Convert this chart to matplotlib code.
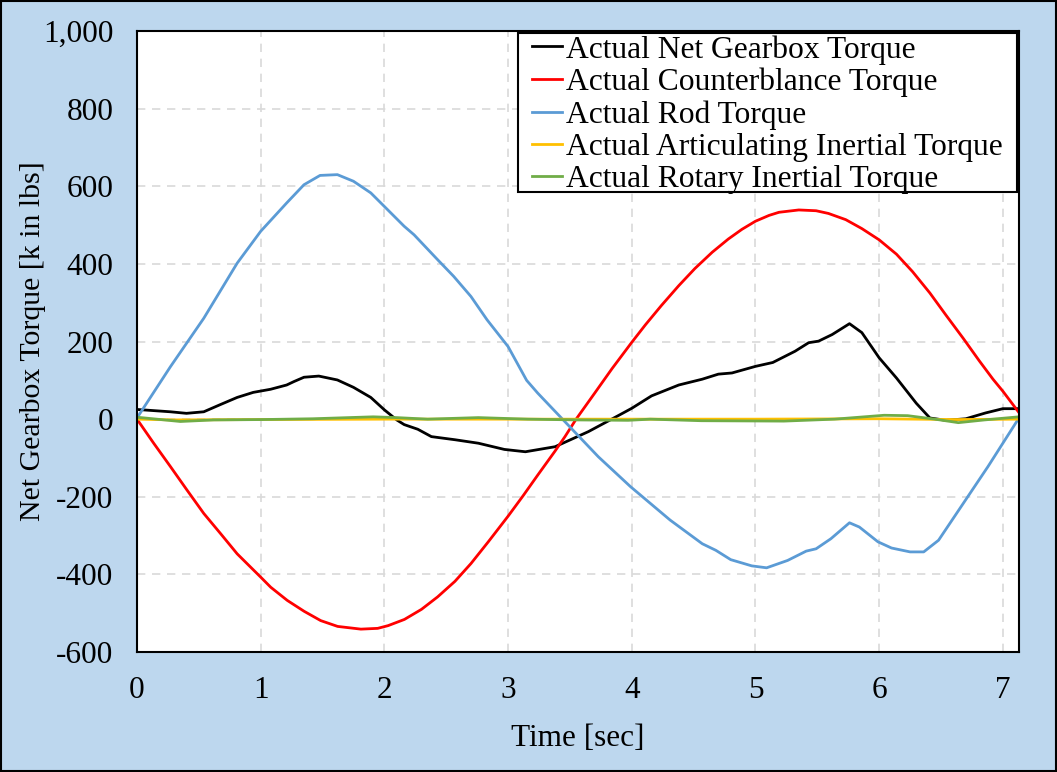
import matplotlib
matplotlib.use('Agg')
from matplotlib import pyplot as plt
from matplotlib.ticker import FuncFormatter, MultipleLocator

plt.rcParams['font.family'] = ['Liberation Serif', 'DejaVu Serif']
plt.rcParams['axes.unicode_minus'] = False

# values (time in sec, torque in k in lbs)
t_net = [0, 0.27, 0.40, 0.54, 0.67, 0.81, 0.94, 1.08, 1.21, 1.27, 1.35, 1.47, 1.62, 1.75, 1.89,
         2.0, 2.1, 2.16, 2.27, 2.38, 2.57, 2.76, 2.97, 3.14, 3.38, 3.65, 3.89, 4.0, 4.16, 4.38,
         4.57, 4.70, 4.81, 5.0, 5.14, 5.32, 5.43, 5.51, 5.62, 5.76, 5.86, 6.0, 6.14, 6.30,
         6.41, 6.54, 6.70, 6.86, 7.0, 7.13]
net = [25, 19, 15, 19, 37, 56, 69, 77, 88, 97, 108, 111, 101, 82, 56,
       24, -2, -14, -26, -45, -53, -62, -78, -84, -71, -32, 9, 28, 60, 88,
       103, 116, 119, 136, 146, 175, 197, 201, 218, 246, 223, 158, 106, 41,
       3, -3, 1, 16, 27, 27]

t_cb = [0, 0.135, 0.27, 0.405, 0.54, 0.676, 0.81, 1.0, 1.081, 1.215, 1.351, 1.485, 1.622, 1.81,
        1.946, 2.03, 2.162, 2.30, 2.43, 2.57, 2.70, 2.84, 3.0, 3.12, 3.24, 3.378, 3.46, 3.55,
        3.70, 3.84, 4.0, 4.11, 4.24, 4.38, 4.51, 4.65, 4.78, 4.89, 5.0, 5.11, 5.19, 5.35, 5.49,
        5.59, 5.73, 5.86, 6.0, 6.14, 6.27, 6.41, 6.54, 6.68, 6.81, 6.92, 7.0, 7.13]
counterbalance = [0, -62, -122, -183, -243, -295, -347, -407, -433, -467, -495, -519, -534, -541,
                  -539, -532, -516, -490, -458, -418, -372, -316, -250, -198, -144, -83, -45, 0,
                  67, 130, 198, 243, 293, 344, 388, 430, 464, 489, 510, 525, 533, 539, 537,
                  530, 514, 491, 462, 425, 380, 325, 268, 208, 150, 103, 72, 17]

t_rod = [0, 0.27, 0.54, 0.81, 1.0, 1.21, 1.35, 1.48, 1.62, 1.75, 1.89, 2.0, 2.16, 2.24, 2.43,
         2.56, 2.70, 2.83, 3.0, 3.15, 3.24, 3.44, 3.73, 3.99, 4.31, 4.57, 4.68, 4.80, 4.97,
         5.09, 5.26, 5.41, 5.49, 5.61, 5.76, 5.84, 5.99, 6.10, 6.25, 6.36, 6.48, 6.68, 6.88,
         7.13]
rod = [3, 135, 260, 402, 484, 557, 604, 628, 630, 613, 583, 548, 497, 475, 411,
       368, 316, 256, 187, 100, 67, 0, -97, -174, -260, -321, -338, -362, -378,
       -383, -364, -340, -334, -308, -267, -278, -316, -332, -342, -342, -312, -217, -122,
       3]

t_art = [0, 0.3, 1.0, 2.0, 3.0, 4.0, 5.0, 6.0, 6.6, 7.13]
articulating = [0, -2, -1, 0, 0, 0, 0, 1, -1, 0]

t_rot = [0, 0.35, 0.62, 1.02, 1.42, 1.91, 2.1, 2.35, 2.76, 3.16, 3.57, 3.97, 4.15, 4.56,
         5.23, 5.64, 6.04, 6.23, 6.45, 6.64, 6.85, 7.13]
rotary = [5, -6, -2, -1, 1, 6, 4, 0, 4, 0, -2, -3, 0, -4,
          -5, 0, 10, 9, 0, -9, -2, 6]

labels = ['Actual Net Gearbox Torque', 'Actual Counterblance Torque', 'Actual Rod Torque',
          'Actual Articulating Inertial Torque', 'Actual Rotary Inertial Torque']
colors = ['#000000', '#FF0000', '#5B9BD5', '#FFC000', '#70AD47']

fig = plt.figure(figsize=(10.57, 7.72), dpi=100, facecolor='#BDD7EE')
fig.patches.append(plt.Rectangle((0.001, 0.001), 0.998, 0.998, transform=fig.transFigure,
                                 fill=False, edgecolor='black', linewidth=1.5))
ax = fig.add_axes([0.1296, 0.1554, 0.8344, 0.8044])
ax.set_facecolor('white')

series = [(t_net, net), (t_cb, counterbalance), (t_rod, rod), (t_art, articulating), (t_rot, rotary)]
for (tt, vv), lab, c in zip(series, labels, colors):
    ax.plot(tt, vv, color=c, lw=2.0, label=lab, solid_joinstyle='round')

ax.set_xlim(0, 7.13)
ax.set_ylim(-600, 1000)
ax.xaxis.set_major_locator(MultipleLocator(1))
ax.yaxis.set_major_locator(MultipleLocator(200))
ax.yaxis.set_major_formatter(FuncFormatter(lambda v, p: f'{int(v):,}'))
ax.tick_params(length=0, labelsize=22.5, pad=17, colors='black')
ax.grid(True, color='#D9D9D9', linestyle=(0, (5, 4)), linewidth=1.2)
ax.set_axisbelow(True)
for s in ax.spines.values():
    s.set_color('black')
    s.set_linewidth(1.5)

ax.set_xlabel('Time [sec]', fontsize=22.5, labelpad=14)
ax.set_ylabel('Net Gearbox Torque [k in lbs]', fontsize=21.5, labelpad=-2)

# legend box drawn by hand so the padding can differ across and down, as in the original
box = plt.Rectangle((0.432, 0.7407), 0.566, 0.2561, transform=ax.transAxes,
                    facecolor='white', edgecolor='black', linewidth=1.5, zorder=4)
ax.add_patch(box)
leg = ax.legend(loc='upper right', bbox_to_anchor=(0.982, 0.9936), borderaxespad=0,
                fontsize=22.7, frameon=False, handlelength=0.95, handletextpad=0.15,
                labelspacing=0.10, borderpad=0.0)
leg.set_zorder(5)

fig.savefig('out.png', dpi=100, facecolor=fig.get_facecolor())
